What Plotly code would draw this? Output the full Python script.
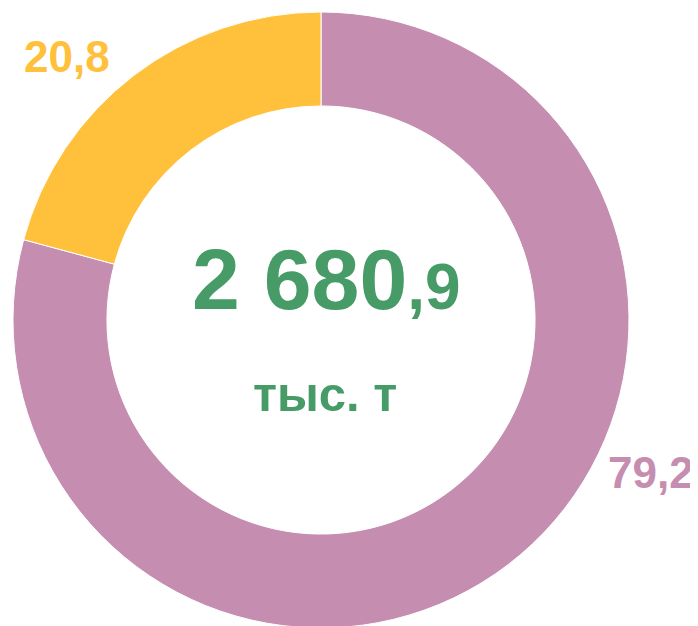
import pandas as pd
import plotly.express as px

df = pd.DataFrame({'Part': ['A', 'B'],
                   'Share': [79.2, 20.8]})

W, H = 698, 626
OFF = 8  # page body margin of the html


class ProductionDonut:
    def __init__(self, data_frame):

        self.df = data_frame

        # colours of the slices
        self.colors = {'A': '#C58DAF', 'B': '#FFC13B'}
        self.green = '#469B67'

    def note(self, fig, px_x, px_y, text, size, color):
        # place a label at a pixel position of the picture
        fig.add_annotation(x=(px_x - OFF) / W, y=1 - (px_y - OFF) / H,
                           xref='paper', yref='paper', xanchor='center', yanchor='middle',
                           text=text, showarrow=False,
                           font=dict(size=size, color=color))

    def donut(self):

        fig = px.pie(self.df, values='Share', names='Part', hole=0.695,
                     color='Part', color_discrete_map=self.colors)
        fig.update_traces(sort=False, direction='clockwise', rotation=0,
                          textinfo='none', hoverinfo='skip',
                          marker_line=dict(color='white', width=1),
                          domain=dict(x=[(13 - OFF) / W, (629 - OFF) / W],
                                      y=[1 - (628 - OFF) / H, 1 - (12 - OFF) / H]))

        fig.update_layout(width=W, height=H, showlegend=False,
                          margin=dict(l=0, r=0, t=0, b=0),
                          paper_bgcolor='white', plot_bgcolor='white',
                          font=dict(family='Liberation Sans, Arial'))

        self.note(fig, 67, 57, '<b>20,8</b>', 44, self.colors['B'])
        self.note(fig, 651, 472, '<b>79,2</b>', 44, self.colors['A'])
        self.note(fig, 326, 279, "<b>2 680<span style='font-size:64px'>,9</span></b>",
                  86, self.green)
        self.note(fig, 325, 394, '<b>тыс. т</b>', 49, self.green)

        return fig


fig = ProductionDonut(df).donut()
fig.write_html("out.html")
